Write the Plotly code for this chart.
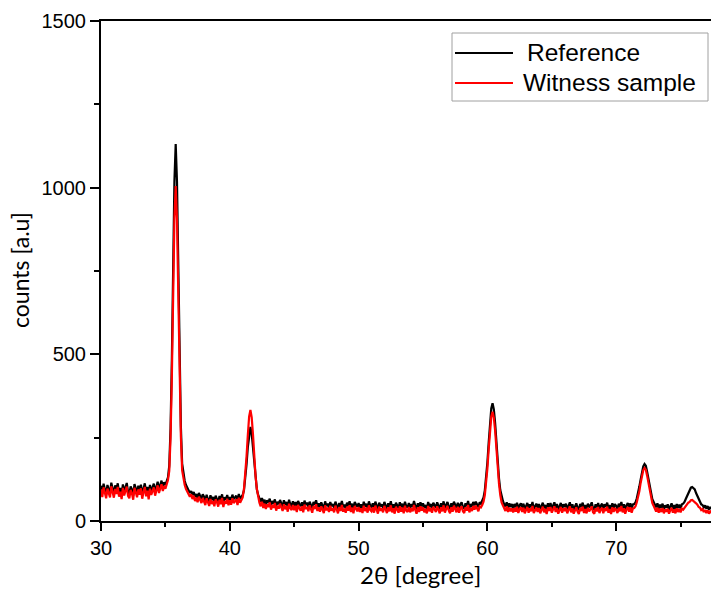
import plotly.graph_objects as go

# 2-theta scan grid: 30.0 .. 77.4 deg, 0.1 deg step
two_theta = [round(30 + i * 0.1, 1) for i in range(475)]

reference_counts = [
    106, 84, 112, 90, 79, 108, 96, 83, 115, 92,
    81, 107, 93, 113, 85, 99, 78, 110, 88, 101,
    114, 87, 80, 104, 95, 76, 111, 98, 84, 106,
    91, 109, 79, 97, 113, 86, 102, 77, 108, 90,
    99, 112, 87, 106, 118, 95, 110, 121, 100, 116,
    108, 119, 131, 166, 278, 482, 760, 1020, 1131, 1018,
    770, 490, 285, 172, 138, 120, 108, 99, 92, 84,
    90, 78, 87, 72, 81, 68, 84, 74, 66, 80,
    73, 60, 79, 65, 58, 77, 63, 72, 57, 76,
    68, 55, 75, 62, 80, 56, 71, 64, 78, 59,
    72, 61, 79, 66, 70, 76, 60, 81, 67, 73,
    78, 92, 124, 170, 222, 264, 282, 262, 220, 168,
    126, 95, 78, 66, 58, 69, 52, 64, 49, 62,
    55, 67, 47, 60, 52, 65, 44, 58, 50, 63,
    53, 43, 62, 48, 57, 41, 64, 50, 46, 59,
    45, 57, 40, 60, 51, 44, 56, 39, 61, 48,
    55, 42, 58, 47, 38, 57, 49, 62, 43, 53,
    41, 56, 48, 37, 59, 45, 52, 40, 57, 44,
    51, 39, 58, 46, 36, 54, 43, 60, 41, 49,
    38, 55, 44, 59, 40, 52, 36, 57, 47, 42,
    54, 40, 50, 36, 58, 43, 52, 38, 59, 46,
    42, 53, 37, 58, 47, 35, 55, 44, 50, 39,
    57, 43, 36, 53, 42, 59, 39, 50, 35, 55,
    47, 38, 56, 41, 52, 36, 58, 44, 40, 54,
    39, 51, 42, 60, 46, 35, 53, 40, 56, 44,
    53, 39, 48, 36, 57, 42, 51, 38, 55, 46,
    40, 56, 44, 36, 53, 42, 59, 38, 48, 57,
    44, 36, 53, 41, 58, 47, 39, 55, 38, 50,
    56, 42, 37, 53, 44, 60, 39, 51, 42, 57,
    47, 58, 50, 41, 56, 52, 62, 71, 92, 127,
    176, 235, 292, 338, 353, 335, 294, 232, 174, 128,
    93, 72, 61, 50, 43, 56, 39, 53, 42, 51,
    38, 51, 41, 55, 36, 47, 53, 40, 52, 35,
    45, 54, 37, 50, 41, 57, 36, 47, 52, 39,
    51, 35, 46, 55, 38, 48, 33, 53, 42, 54,
    37, 47, 56, 39, 51, 34, 46, 54, 37, 50,
    42, 52, 35, 48, 56, 38, 50, 34, 45, 53,
    40, 33, 51, 42, 55, 36, 48, 35, 52, 41,
    47, 56, 38, 34, 50, 41, 54, 36, 46, 52,
    35, 50, 42, 55, 37, 48, 33, 53, 39, 51,
    45, 36, 52, 41, 57, 38, 50, 34, 47, 54,
    40, 53, 37, 50, 51, 56, 68, 83, 104, 125,
    150, 164, 171, 166, 148, 127, 102, 83, 66, 58,
    51, 41, 53, 37, 49, 39, 52, 35, 47, 40,
    50, 34, 44, 53, 37, 48, 35, 51, 39, 49,
    38, 50, 52, 57, 66, 74, 86, 93, 100, 102,
    98, 95, 84, 76, 64, 58, 50, 48, 41, 47,
    37, 45, 34, 42, 36,
]

witness_counts = [
    95, 72, 101, 79, 68, 97, 84, 71, 104, 80,
    70, 96, 81, 102, 73, 88, 66, 99, 77, 90,
    103, 75, 68, 93, 83, 64, 100, 86, 71, 95,
    79, 98, 67, 86, 102, 74, 91, 65, 97, 78,
    88, 101, 76, 95, 107, 84, 99, 110, 90, 105,
    97, 108, 123, 150, 250, 430, 682, 908, 1005, 905,
    685, 436, 255, 152, 124, 108, 96, 88, 79, 73,
    80, 66, 76, 60, 70, 56, 73, 62, 54, 69,
    61, 48, 68, 53, 45, 66, 51, 60, 44, 65,
    57, 43, 64, 50, 69, 42, 60, 52, 67, 47,
    62, 49, 68, 54, 58, 65, 48, 70, 55, 64,
    71, 96, 136, 193, 258, 313, 333, 311, 260, 190,
    134, 96, 70, 55, 44, 58, 39, 52, 36, 50,
    42, 56, 34, 48, 40, 54, 31, 46, 37, 52,
    41, 30, 50, 35, 45, 28, 52, 38, 33, 48,
    32, 46, 27, 48, 38, 31, 44, 26, 49, 36,
    43, 29, 47, 34, 25, 45, 36, 50, 30, 41,
    28, 44, 35, 24, 47, 32, 40, 27, 46, 31,
    39, 26, 46, 33, 23, 42, 30, 48, 28, 37,
    25, 43, 31, 47, 27, 40, 23, 45, 34, 29,
    42, 27, 38, 24, 46, 30, 40, 25, 47, 33,
    29, 41, 25, 46, 34, 22, 43, 31, 38, 26,
    45, 30, 24, 41, 29, 47, 26, 38, 22, 43,
    35, 25, 44, 28, 40, 23, 46, 31, 27, 42,
    26, 39, 29, 48, 33, 22, 41, 27, 44, 31,
    41, 26, 36, 23, 45, 29, 39, 25, 43, 34,
    27, 44, 31, 23, 41, 29, 47, 25, 36, 45,
    31, 23, 41, 28, 46, 34, 26, 43, 25, 38,
    44, 29, 24, 41, 31, 48, 26, 39, 30, 45,
    34, 46, 37, 29, 44, 41, 48, 58, 78, 111,
    158, 215, 269, 313, 328, 310, 271, 213, 156, 112,
    78, 56, 47, 37, 30, 44, 27, 40, 29, 38,
    26, 39, 28, 43, 24, 35, 41, 27, 40, 23,
    33, 42, 25, 38, 29, 45, 24, 35, 40, 27,
    39, 23, 34, 43, 26, 36, 21, 41, 30, 42,
    25, 35, 44, 27, 39, 22, 34, 42, 25, 38,
    30, 40, 23, 36, 44, 26, 38, 22, 33, 41,
    28, 21, 39, 30, 43, 24, 36, 23, 40, 29,
    35, 44, 26, 22, 38, 29, 42, 24, 34, 40,
    23, 38, 30, 43, 25, 36, 21, 41, 27, 39,
    33, 24, 40, 29, 45, 26, 38, 22, 35, 42,
    28, 41, 25, 38, 39, 44, 56, 71, 90, 115,
    138, 152, 159, 154, 136, 113, 92, 69, 54, 46,
    38, 28, 40, 25, 37, 27, 39, 23, 35, 28,
    37, 22, 32, 40, 25, 35, 23, 38, 27, 36,
    26, 37, 34, 40, 44, 48, 55, 57, 62, 63,
    60, 58, 53, 49, 42, 40, 33, 36, 27, 33,
    24, 32, 22, 29, 25,
]

series_names = ["Reference", "Witness sample"]
series_colors = ["#000000", "#ff0000"]

x_ticks = [30, 40, 50, 60, 70]
y_ticks = [0, 500, 1000, 1500]
x_title = "2θ [degree]"
y_title = "counts [a.u]"

# plot-area geometry in pixels (figure 711 x 590)
L, R, T, B = 101, 711, 21, 521


def px(x):
    return (x - L) / (R - L)


def py(y):
    return (B - y) / (B - T)


fig = go.Figure()
for name, ys, col in zip(series_names, [reference_counts, witness_counts], series_colors):
    fig.add_trace(go.Scatter(
        x=two_theta, y=ys, mode="lines", name=name,
        line=dict(color=col, width=2.2), showlegend=False,
    ))

tick_font = dict(family="Liberation Sans, Arial, sans-serif", size=20, color="black")
legend_font = dict(family="Liberation Sans, Arial, sans-serif", size=24.5, color="black")

# legend drawn as a framed box with line samples and labels
shapes = [
    dict(type="rect", xref="paper", yref="paper",
         x0=px(452), x1=px(708), y0=py(101), y1=py(33),
         line=dict(color="#a0a0a0", width=1), fillcolor="white", layer="above"),
]
annotations = []
legend_rows_y = [53, 83]
legend_text_x = [525, 521]
for name, col, ly, tx in zip(series_names, series_colors, legend_rows_y, legend_text_x):
    shapes.append(dict(type="line", xref="paper", yref="paper",
                       x0=px(455), x1=px(513), y0=py(ly), y1=py(ly),
                       line=dict(color=col, width=2), layer="above"))
    annotations.append(dict(text=name, xref="paper", yref="paper",
                            x=px(tx), y=py(ly - 1), xanchor="left", yanchor="middle",
                            showarrow=False, font=legend_font))

annotations += [
    dict(text=x_title, xref="paper", yref="paper", x=px(420), y=py(574),
         xanchor="center", yanchor="middle", showarrow=False, borderpad=0,
         font=dict(family="Lato, Carlito, Calibri, sans-serif", size=24, color="black")),
    dict(text=y_title, xref="paper", yref="paper", x=px(20), y=py(270),
         xanchor="center", yanchor="middle", showarrow=False, textangle=-90,
         font=dict(family="Lato, Carlito, Calibri, sans-serif", size=23, color="black")),
]

fig.update_layout(
    width=711, height=590,
    margin=dict(l=L, r=711 - R, t=T, b=590 - B),
    paper_bgcolor="white", plot_bgcolor="white",
    showlegend=False,
    shapes=shapes,
    annotations=annotations,
)

fig.update_xaxes(
    range=[30, 77.36], tickvals=x_ticks, ticktext=[str(v) for v in x_ticks],
    showline=True, linecolor="black", linewidth=2, mirror=True,
    ticks="outside", ticklen=8, tickwidth=2, tickcolor="black",
    minor=dict(dtick=5, ticks="outside", ticklen=4, tickwidth=2, tickcolor="black"),
    showgrid=False, zeroline=False, tickfont=tick_font, automargin=False,
)
fig.update_yaxes(
    range=[0, 1500], tickvals=y_ticks, ticktext=[str(v) for v in y_ticks],
    showline=True, linecolor="black", linewidth=2, mirror=False,
    ticks="outside", ticklen=9, tickwidth=2, tickcolor="black",
    minor=dict(dtick=250, ticks="outside", ticklen=5, tickwidth=2, tickcolor="black"),
    showgrid=False, zeroline=False, tickfont=tick_font, automargin=False,
)

fig.write_html(
    "out.html",
    config={"displayModeBar": False},
    post_script="document.body.style.margin='0';document.body.style.overflow='hidden';",
)
